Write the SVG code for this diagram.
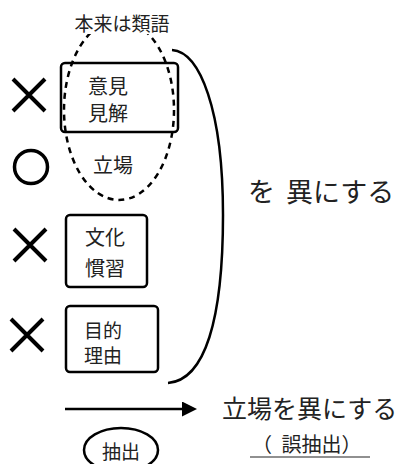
<svg xmlns="http://www.w3.org/2000/svg" width="402" height="464" viewBox="0 0 402 464">
<style>
.t{font-family:"Noto Sans CJK JP","Noto Sans",sans-serif;fill:#222}
.box{fill:#fff;stroke:#000;stroke-width:2.5}
.mark{fill:none;stroke:#000;stroke-width:4}
.ln{fill:none;stroke:#000;stroke-width:2.5}
</style>
<defs>
<marker id="ah" markerWidth="6" markerHeight="6" refX="0" refY="3" orient="auto" markerUnits="strokeWidth"><path d="M0,0 L6,3 L0,6 Z" fill="#000"/></marker>
</defs>
<rect width="402" height="464" fill="#fff"/>
<g id="marks">
<path class="mark" d="M13,79 L45,111 M45,79 L13,111"/>
<circle class="mark" cx="31" cy="167" r="16.5" style="stroke-width:3.5"/>
<path class="mark" d="M14,229 L46,261 M46,229 L14,261"/>
<path class="mark" d="M11,319 L43,351 M43,319 L11,351"/>
</g>
<g id="node-iken">
<rect class="box" x="61" y="63" width="117" height="69" rx="4"/>
<text class="t" x="88" y="94" font-size="20">意見</text>
<text class="t" x="88" y="121" font-size="20">見解</text>
</g>
<g id="node-bunka">
<rect class="box" x="66" y="215" width="81" height="72" rx="4"/>
<text class="t" x="85" y="245" font-size="20">文化</text>
<text class="t" x="85" y="276" font-size="20">慣習</text>
</g>
<g id="node-mokuteki">
<rect class="box" x="66" y="306" width="92" height="66" rx="4"/>
<text class="t" x="84" y="338" font-size="19">目的</text>
<text class="t" x="84" y="363" font-size="19">理由</text>
</g>
<g id="group-ruigo">
<ellipse cx="119" cy="110" rx="55" ry="90" fill="none" stroke="#000" stroke-width="2.5" stroke-dasharray="6,5"/>
<rect x="70" y="12" width="105" height="22" fill="#fff"/>
<text class="t" x="122" y="31" font-size="19" text-anchor="middle">本来は類語</text>
<text class="t" x="93" y="173" font-size="20">立場</text>
</g>
<g id="connectors">
<path class="ln" d="M172,50 C200,52 223,110 223,215 C223,320 205,380 168,383"/>
<line x1="65" y1="409" x2="182" y2="409" stroke="#000" stroke-width="2.5" marker-end="url(#ah)"/>
</g>
<g id="label-kotonisuru">
<text class="t" x="248" y="202" font-size="27" word-spacing="5">を 異にする</text>
</g>
<g id="label-result">
<text class="t" x="222" y="418" font-size="25">立場を異にする</text>
<text class="t" x="252" y="452" font-size="20" word-spacing="5">（ 誤抽出）</text>
<line x1="250" y1="457" x2="370" y2="457" stroke="#222" stroke-width="1.2"/>
</g>
<g id="node-chushutsu">
<ellipse cx="121" cy="450" rx="37" ry="22" fill="#fff" stroke="#000" stroke-width="2.5"/>
<text class="t" x="121" y="459" font-size="19" text-anchor="middle">抽出</text>
</g>
</svg>
